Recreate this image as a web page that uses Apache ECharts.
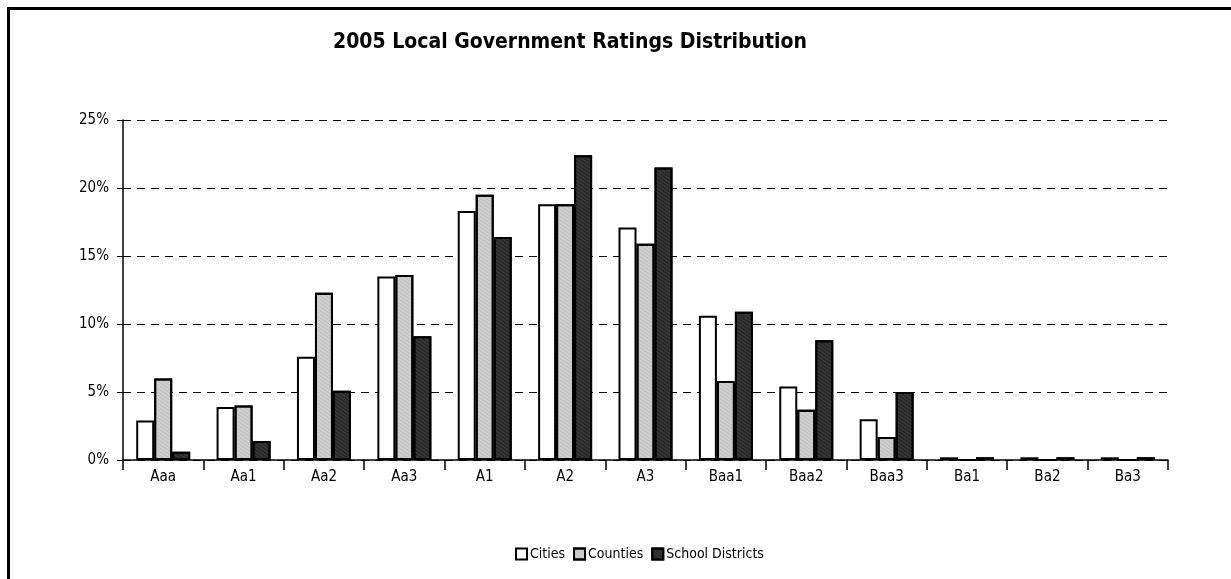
<!DOCTYPE html>
<html><head><meta charset="utf-8">
<script src="https://cdn.jsdelivr.net/npm/echarts@6/dist/echarts.min.js"></script>
<style>
html,body{margin:0;padding:0;background:#fff;}
#frame{position:absolute;left:7px;top:7px;width:1240px;height:580px;border-left:3px solid #000;border-top:3px solid #000;}
#chart{position:absolute;left:0;top:0;width:1231px;height:579px;}
</style></head>
<body>
<div id="frame"></div>
<div id="chart"></div>
<script>
const categories = ['Aaa','Aa1','Aa2','Aa3','A1','A2','A3','Baa1','Baa2','Baa3','Ba1','Ba2','Ba3'];
const cities =          [2.9, 3.9, 7.6, 13.5, 18.3, 18.8, 17.1, 10.6, 5.4, 3.0, 0.2, 0.2, 0.2];
const counties =        [6.0, 4.0, 12.3, 13.6, 19.5, 18.8, 15.9, 5.8, 3.7, 1.7, 0, 0, 0];
const schoolDistricts = [0.6, 1.4, 5.1, 9.1, 16.4, 22.4, 21.5, 10.9, 8.8, 5.0, 0.2, 0.2, 0.2];
const yTicks = [0, 5, 10, 15, 20, 25];

const font = "'Liberation Sans Narrow','DejaVu Sans Condensed','Liberation Sans',sans-serif";
const chart = echarts.init(document.getElementById('chart'));
function bar(name, data, color, decalColor) {
  return {
    name, type: 'bar', data, barWidth: 18, barGap: '0%',
    itemStyle: {
      color: color, borderColor: '#000', borderWidth: 2,
      decal: decalColor ? { symbol: 'rect', symbolSize: 0.35, color: decalColor, dashArrayX: [1, 0], dashArrayY: [1, 2], rotation: 0.6 } : undefined
    },
    emphasis: { disabled: true }
  };
}
chart.setOption({
  animation: false,
  title: {
    text: '2005 Local Government Ratings Distribution',
    left: 565, textAlign: 'center', top: 27,
    textStyle: { fontFamily: font, fontSize: 21, fontWeight: 'bold', color: '#000' }
  },
  legend: {
    data: ['Cities', 'Counties', 'School Districts'],
    icon: 'rect',
    left: 510, top: 542, itemWidth: 11, itemHeight: 11, itemGap: 8,
    textStyle: { fontFamily: font, fontSize: 14, color: '#000', padding: [0, 0, 0, -2] }
  },
  grid: { left: 123, right: 63, top: 120, bottom: 119 },
  xAxis: {
    type: 'category', data: categories,
    axisLine: { lineStyle: { color: '#000', width: 1.5 } },
    axisTick: { show: true, alignWithLabel: false, length: 10, lineStyle: { color: '#000', width: 1.5 } },
    axisLabel: { fontFamily: font, fontSize: 15, color: '#000', margin: 10 }
  },
  yAxis: {
    type: 'value', min: 0, max: 25, interval: 5,
    axisLine: { show: true, lineStyle: { color: '#000', width: 1.5 } },
    axisTick: { show: true, length: 6, lineStyle: { color: '#000' } },
    axisLabel: { fontFamily: font, fontSize: 15, color: '#000', margin: 14,
      formatter: v => yTicks.includes(v) ? v + '%' : '' },
    splitLine: { show: true, lineStyle: { color: '#000', type: [8, 6], width: 1 } }
  },
  series: [
    bar('Cities', cities, '#ffffff', null),
    bar('Counties', counties, '#cfcfcf', '#7a7a7a'),
    bar('School Districts', schoolDistricts, '#2a2a2a', '#8a8a8a')
  ]
});
</script>
</body></html>
